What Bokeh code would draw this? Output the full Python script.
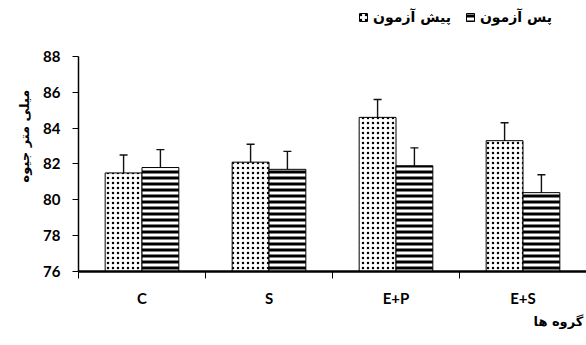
from bokeh.plotting import figure
from bokeh.models import (ColumnDataSource, Range1d, FixedTicker, Whisker, TeeHead,
                          Legend, LegendItem, Title)
from bokeh.embed import file_html
from bokeh.resources import INLINE

# ---- data ----
groups = ["C", "S", "E+P", "E+S"]
pre_test = [81.5, 82.1, 84.6, 83.3]
post_test = [81.8, 81.7, 81.9, 80.4]
pre_err = [1.0, 1.0, 1.0, 1.0]
post_err = [1.0, 1.0, 1.0, 1.0]
y_ticks = [76, 78, 80, 82, 84, 86, 88]
series_labels = ["پیش آزمون", "پس آزمون"]
y_label = "میلی متر جیوه"
x_label = "گروه ها"

# ---- layout helpers ----
bar_w = 0.29
centers = [i + 0.5 for i in range(len(groups))]
pre_x = [c - bar_w / 2 for c in centers]
post_x = [c + bar_w / 2 for c in centers]
base = y_ticks[0]

pre_src = ColumnDataSource(dict(x=pre_x, top=pre_test,
                                upper=[v + e for v, e in zip(pre_test, pre_err)],
                                lower=[v - e for v, e in zip(pre_test, pre_err)]))
post_src = ColumnDataSource(dict(x=post_x, top=post_test,
                                 upper=[v + e for v, e in zip(post_test, post_err)],
                                 lower=[v - e for v, e in zip(post_test, post_err)]))

p = figure(width=586, height=345,
           x_range=Range1d(0, len(groups)), y_range=Range1d(base, 91.12),
           output_backend="svg", toolbar_location=None,
           min_border_left=78, min_border_right=0, min_border_top=0, min_border_bottom=74)
p.outline_line_color = None
p.xgrid.visible = False
p.ygrid.visible = False
p.background_fill_color = "white"

r_pre = p.vbar(x="x", top="top", bottom=base, width=bar_w, source=pre_src,
               fill_color="white", line_color="black", line_width=1,
               hatch_pattern="dot", hatch_color="black", hatch_scale=5, hatch_weight=2.2)
r_post = p.vbar(x="x", top="top", bottom=base, width=bar_w, source=post_src,
                fill_color="white", line_color="black", line_width=1,
                hatch_pattern="horizontal_line", hatch_color="black", hatch_scale=6, hatch_weight=3)

for src in (pre_src, post_src):
    w = Whisker(source=src, base="x", upper="upper", lower="lower",
                line_color="#111111", line_width=1.4,
                upper_head=TeeHead(size=8, line_color="#111111", line_width=1.4),
                lower_head=TeeHead(size=8, line_color="#111111", line_width=1.4))
    p.add_layout(w)

tick_font = "Lato"
# y axis
ya = p.yaxis[0]
ya.ticker = FixedTicker(ticks=y_ticks)
ya.bounds = (y_ticks[0], y_ticks[-1])
ya.axis_line_width = 1.5
ya.axis_line_color = "black"
ya.major_tick_out = 6
ya.major_tick_in = 0
ya.minor_tick_out = 0
ya.minor_tick_in = 0
ya.major_tick_line_color = "black"
ya.major_label_standoff = 12
ya.major_label_text_font = tick_font
ya.major_label_text_font_size = "15px"
ya.major_label_text_font_style = "bold"
ya.major_label_text_color = "black"
ya.axis_label = y_label
ya.axis_label_text_font = "DejaVu Sans"
ya.axis_label_text_font_size = "13px"
ya.axis_label_text_font_style = "bold"
ya.axis_label_text_color = "black"
ya.axis_label_standoff = 8

# x axis
xa = p.xaxis[0]
xa.ticker = FixedTicker(ticks=centers, minor_ticks=list(range(len(groups) + 1)))
xa.major_label_overrides = {c: g for c, g in zip(centers, groups)}
xa.axis_line_width = 2.5
xa.axis_line_color = "black"
xa.major_tick_out = 0
xa.major_tick_in = 0
xa.minor_tick_out = 7
xa.minor_tick_in = 0
xa.minor_tick_line_color = "black"
xa.minor_tick_line_width = 1
xa.major_label_standoff = 10
xa.major_label_text_font = tick_font
xa.major_label_text_font_size = "15px"
xa.major_label_text_font_style = "bold"
xa.major_label_text_color = "black"

# x-axis title, at the lower right as in the original
p.add_layout(Title(text=x_label, align="left", offset=455, standoff=4,
                   text_font="DejaVu Sans", text_font_size="13px",
                   text_font_style="bold", text_color="black"), "below")

legend = Legend(items=[LegendItem(label=series_labels[0], renderers=[r_pre]),
                       LegendItem(label=series_labels[1], renderers=[r_post])],
                orientation="horizontal", location=(280, 246),
                glyph_width=10, glyph_height=10,
                label_text_font="DejaVu Sans", label_text_font_size="14px",
                label_text_font_style="bold", label_text_color="black",
                border_line_color=None, background_fill_alpha=0,
                padding=0, margin=0, spacing=14, label_standoff=5)
p.add_layout(legend)

open("out.html", "w").write(file_html(p, INLINE))
